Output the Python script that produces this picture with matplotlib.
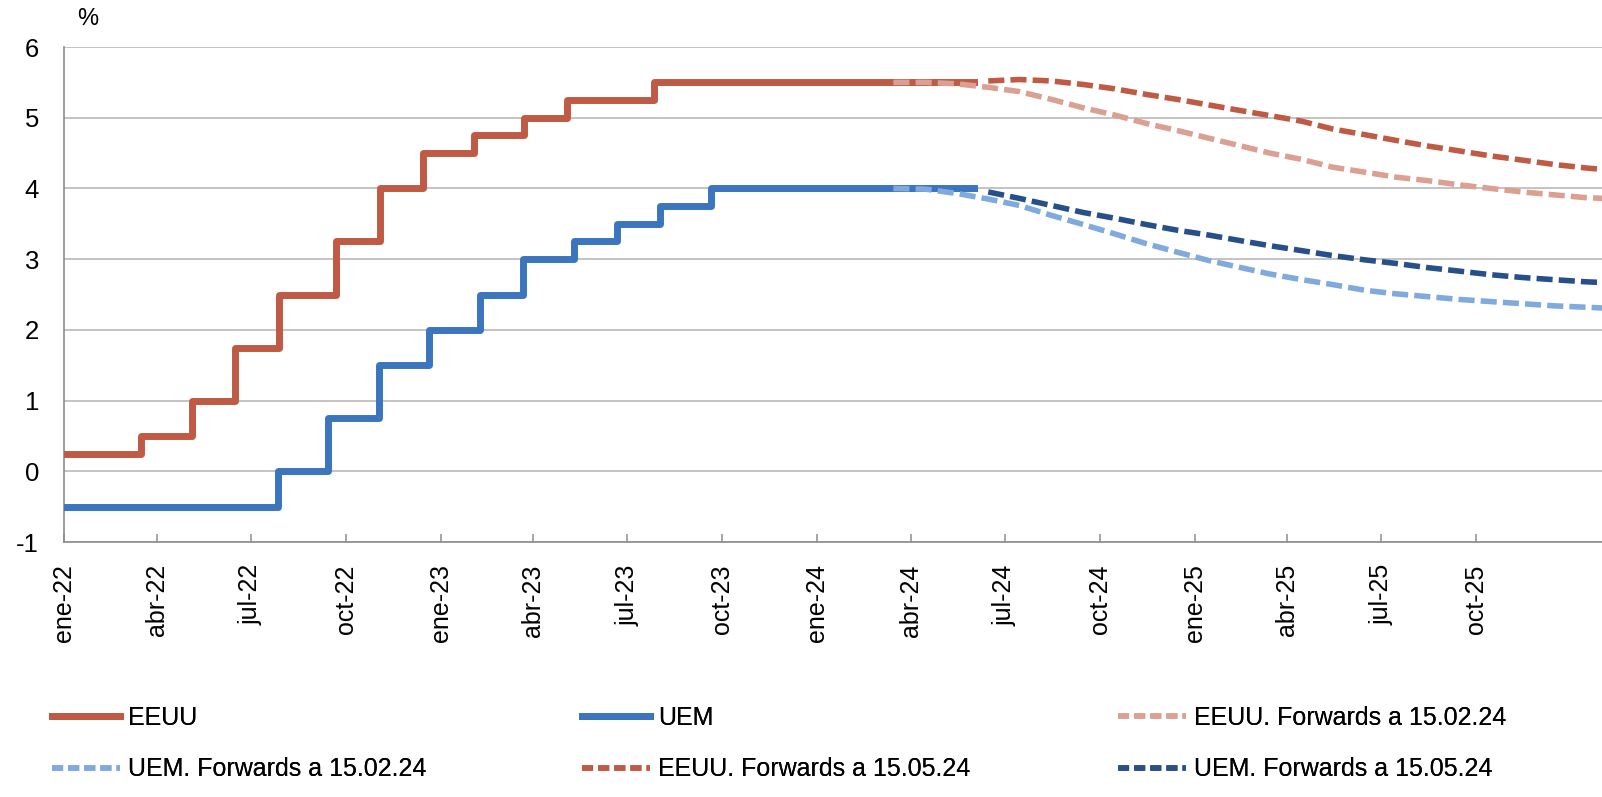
import matplotlib
matplotlib.use("Agg")
import matplotlib.pyplot as plt
from matplotlib.lines import Line2D
import numpy as np

plt.rcParams['font.family'] = ['Liberation Sans', 'DejaVu Sans']
plt.rcParams['axes.unicode_minus'] = False

# Fed funds (upper bound), step changes
fed_dates = ['2022-01-01', '2022-03-17', '2022-05-05', '2022-06-16', '2022-07-28',
             '2022-09-22', '2022-11-03', '2022-12-15', '2023-02-02', '2023-03-23',
             '2023-05-04', '2023-07-27', '2024-06-01']
fed_rates = [0.25, 0.5, 1.0, 1.75, 2.5, 3.25, 4.0, 4.5, 4.75, 5.0, 5.25, 5.5, 5.5]

# ECB deposit facility rate
ecb_dates = ['2022-01-01', '2022-07-27', '2022-09-14', '2022-11-02', '2022-12-21',
             '2023-02-08', '2023-03-22', '2023-05-10', '2023-06-21', '2023-08-02',
             '2023-09-20', '2024-06-01']
ecb_rates = [-0.5, 0.0, 0.75, 1.5, 2.0, 2.5, 3.0, 3.25, 3.5, 3.75, 4.0, 4.0]

# forwards at 15.02.24 (monthly, Mar-24 .. Feb-26)
fwd_feb_dates = ['2024-03-15', '2024-04-15', '2024-05-15', '2024-06-15', '2024-07-15',
                 '2024-08-15', '2024-09-15', '2024-10-15', '2024-11-15', '2024-12-15',
                 '2025-01-15', '2025-02-15', '2025-03-15', '2025-04-15', '2025-05-15',
                 '2025-06-15', '2025-07-15', '2025-08-15', '2025-09-15', '2025-10-15',
                 '2025-11-15', '2025-12-15', '2026-01-15', '2026-02-15']
usa_fwd_feb = [5.50, 5.50, 5.48, 5.43, 5.37, 5.26, 5.14, 5.04, 4.92, 4.82,
               4.71, 4.60, 4.50, 4.41, 4.30, 4.23, 4.16, 4.11, 4.05, 4.00,
               3.95, 3.91, 3.87, 3.85]
uem_fwd_feb = [4.00, 3.99, 3.93, 3.85, 3.76, 3.62, 3.49, 3.36, 3.22, 3.10,
               2.98, 2.88, 2.79, 2.71, 2.64, 2.56, 2.51, 2.47, 2.43, 2.40,
               2.37, 2.34, 2.32, 2.30]

# forwards at 15.05.24 (monthly, Jun-24 .. Feb-26)
fwd_may_dates = ['2024-06-15', '2024-07-15', '2024-08-15', '2024-09-15', '2024-10-15',
                 '2024-11-15', '2024-12-15', '2025-01-15', '2025-02-15', '2025-03-15',
                 '2025-04-15', '2025-05-15', '2025-06-15', '2025-07-15', '2025-08-15',
                 '2025-09-15', '2025-10-15', '2025-11-15', '2025-12-15', '2026-01-15',
                 '2026-02-15']
usa_fwd_may = [5.52, 5.54, 5.52, 5.47, 5.41, 5.33, 5.26, 5.18, 5.10, 5.03,
               4.95, 4.84, 4.76, 4.68, 4.60, 4.53, 4.46, 4.40, 4.34, 4.29, 4.25]
uem_fwd_may = [3.95, 3.86, 3.76, 3.66, 3.58, 3.49, 3.41, 3.34, 3.26, 3.19,
               3.12, 3.05, 2.99, 2.94, 2.88, 2.83, 2.78, 2.74, 2.71, 2.68, 2.66]

month_names = ['ene', 'feb', 'mar', 'abr', 'may', 'jun',
               'jul', 'ago', 'sep', 'oct', 'nov', 'dic']

c_usa = '#BF5A45'
c_uem = '#3A75BD'
c_usa_feb = '#DCA093'
c_uem_feb = '#80AADD'
c_usa_may = '#BF5A45'
c_uem_may = '#27508A'


def d(lst):
    return np.array(lst, dtype='datetime64[D]')


fig = plt.figure(figsize=(16.02, 7.97), dpi=100)
ax = fig.add_axes([64 / 1602, 1 - 542 / 797, 1 - 64 / 1602, (542 - 47) / 797])

solid_lw = 5.0
dash_lw = 4.0
dash_pat = (2.9, 1.1)

ax.step(d(fed_dates), fed_rates, where='post', color=c_usa, lw=solid_lw, zorder=3)
ax.step(d(ecb_dates), ecb_rates, where='post', color=c_uem, lw=solid_lw, zorder=3)

ax.plot(d(fwd_feb_dates), usa_fwd_feb, color=c_usa_feb, lw=dash_lw,
        dashes=dash_pat, dash_capstyle='butt', zorder=4)
ax.plot(d(fwd_feb_dates), uem_fwd_feb, color=c_uem_feb, lw=dash_lw,
        dashes=dash_pat, dash_capstyle='butt', zorder=4)
ax.plot(d(fwd_may_dates), usa_fwd_may, color=c_usa_may, lw=dash_lw,
        dashes=dash_pat, dash_capstyle='butt', zorder=4)
ax.plot(d(fwd_may_dates), uem_fwd_may, color=c_uem_may, lw=dash_lw,
        dashes=dash_pat, dash_capstyle='butt', zorder=4)

ax.set_ylim(-1, 6)
ax.set_yticks(range(-1, 7))
ax.set_xlim(np.datetime64('2022-01-01'), np.datetime64('2026-01-31'))

ticks = [np.datetime64(f'{y}-{m:02d}-01') for y in (2022, 2023, 2024, 2025)
         for m in (1, 4, 7, 10)]
ax.set_xticks(ticks)
ax.set_xticklabels([f"{month_names[int(str(t)[5:7]) - 1]}-{str(t)[2:4]}" for t in ticks],
                   rotation=90, va='top', ha='center')

ax.grid(axis='y', color='#b3b3b3', lw=1.1)
ax.set_axisbelow(True)
for s in ('top', 'right'):
    ax.spines[s].set_visible(False)
for s in ('left', 'bottom'):
    ax.spines[s].set_color('#8c8c8c')
    ax.spines[s].set_linewidth(1.2)

ax.tick_params(axis='y', length=0, pad=18, labelsize=18.5)
ax.tick_params(axis='x', direction='in', length=6, width=1.1, color='#8c8c8c',
               pad=16, labelsize=18)

fig.text(77 / 1602, 1 - 19 / 797, '%', fontsize=17, va='center', ha='left')

# legend, built as three columns
def h(color, solid):
    if solid:
        return Line2D([], [], color=color, lw=solid_lw)
    return Line2D([], [], color=color, lw=dash_lw, dashes=(2.0, 0.9))


columns = [
    (52, [(h(c_usa, True), 'EEUU'), (h(c_uem_feb, False), 'UEM. Forwards a 15.02.24')]),
    (582, [(h(c_uem, True), 'UEM'), (h(c_usa_may, False), 'EEUU. Forwards a 15.05.24')]),
    (1118, [(h(c_usa_feb, False), 'EEUU. Forwards a 15.02.24'),
            (h(c_uem_may, False), 'UEM. Forwards a 15.05.24')]),
]
for x0, items in columns:
    leg = fig.legend([i[0] for i in items], [i[1] for i in items],
                     loc='upper left', bbox_to_anchor=(x0 / 1602, 1 - 706 / 797),
                     frameon=False, fontsize=18, handlelength=2.7,
                     handletextpad=0.35, labelspacing=1.1,
                     borderaxespad=0, borderpad=0)
    fig.add_artist(leg)

fig.savefig('out.png', dpi=100)
